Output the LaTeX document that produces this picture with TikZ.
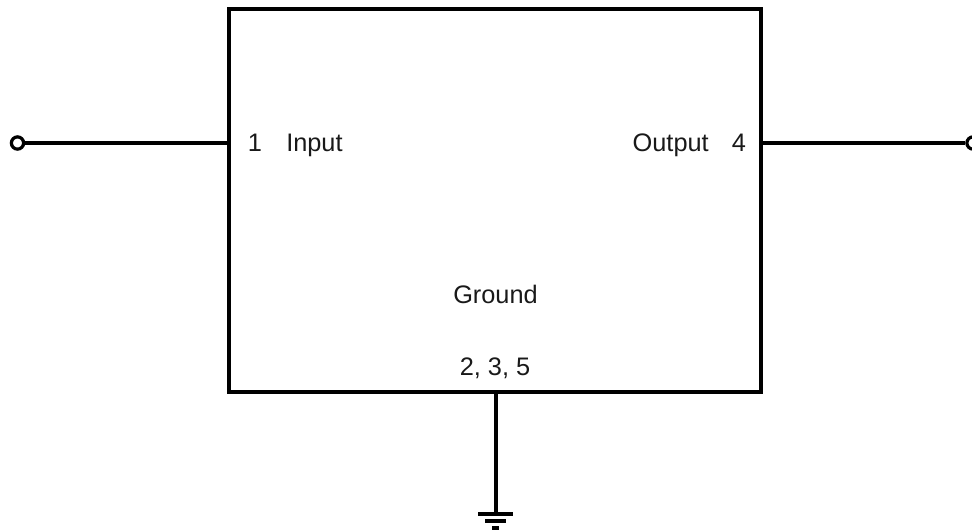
\documentclass[tikz,border=0pt]{standalone}
\usepackage{fontspec}
\setmainfont{Liberation Sans}
\tikzset{
  wire/.style={line width=2.4pt,color=black},
  gwire/.style={line width=3pt,color=black},
  boxshape/.style={draw=black,line width=2.4pt,inner sep=0pt,minimum width=399pt,minimum height=287.25pt},
  term/.style={circle,draw=black,line width=2.4pt,fill=white,inner sep=0pt,minimum size=9.2pt},
  lbl/.style={font=\fontsize{19pt}{22pt}\selectfont,inner sep=0pt,text=black!90}
}
\begin{document}
\begin{tikzpicture}[x=0.75pt,y=-0.75pt]
\useasboundingbox (0,0) rectangle (972,529);
\node[boxshape] (box) at (495,200.5) {};
\node[term] (in) at (17.5,143) {};
\node[term] (out) at (973,143) {};
\coordinate (boxL) at (229,143);
\coordinate (boxR) at (761,143);
\coordinate (boxB) at (495.5,392);
\coordinate (gnd) at (495.5,514);
\draw[wire] (in) -- (boxL);
\draw[wire] (boxR) -- (out);
\draw[gwire] (boxB) -- (gnd);
\coordinate (g1a) at (478,514); \coordinate (g1b) at (513,514);
\coordinate (g2a) at (485,521); \coordinate (g2b) at (506,521);
\coordinate (g3a) at (492,528); \coordinate (g3b) at (499,528);
\draw[wire] (g1a) -- (g1b);
\draw[wire] (g2a) -- (g2b);
\draw[wire] (g3a) -- (g3b);
\node[lbl,anchor=base] (n1) at (255,151) {1};
\node[lbl,anchor=base west] (input) at (286,151) {Input};
\node[lbl,anchor=base east] (output) at (709,151) {Output};
\node[lbl,anchor=base] (n4) at (739,151) {4};
\node[lbl,anchor=base] (ground) at (495.5,303) {Ground};
\node[lbl,anchor=base] (pins) at (495,375) {2, 3, 5};
\end{tikzpicture}
\end{document}
